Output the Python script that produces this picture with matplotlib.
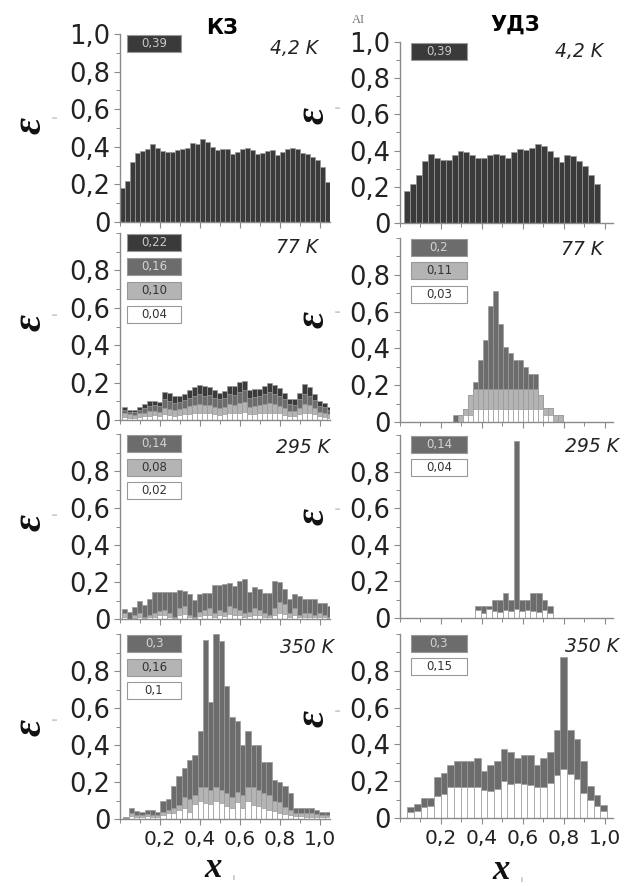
import numpy as np
import matplotlib.pyplot as plt
from matplotlib.patches import Rectangle
from matplotlib.ticker import MultipleLocator, FixedLocator, FuncFormatter

plt.rcParams['font.family'] = ['DejaVu Sans']

# ---- data ----
# left column "КЗ"
kz_42_dark = [0.18, 0.22, 0.32, 0.365, 0.38, 0.39, 0.415, 0.395, 0.38, 0.375, 0.375, 0.385,
              0.39, 0.395, 0.42, 0.415, 0.44, 0.425, 0.40, 0.385, 0.39, 0.39, 0.36, 0.37,
              0.39, 0.395, 0.385, 0.36, 0.365, 0.38, 0.383, 0.356, 0.372, 0.388, 0.395, 0.388,
              0.367, 0.36, 0.347, 0.33, 0.294, 0.214]

kz_77_dark = [0.072, 0.054, 0.054, 0.072, 0.086, 0.10, 0.103, 0.095, 0.148, 0.144, 0.126, 0.13,
              0.139, 0.158, 0.177, 0.186, 0.18, 0.177, 0.162, 0.144, 0.153, 0.18, 0.18, 0.204,
              0.207, 0.162, 0.166, 0.166, 0.184, 0.198, 0.186, 0.171, 0.144, 0.112, 0.112, 0.144,
              0.193, 0.175, 0.14, 0.10, 0.09, 0.07]
kz_77_mid = [0.055, 0.045, 0.045, 0.055, 0.065, 0.075, 0.08, 0.075, 0.11, 0.10, 0.09, 0.095,
             0.105, 0.12, 0.13, 0.14, 0.13, 0.135, 0.12, 0.11, 0.115, 0.14, 0.135, 0.15,
             0.16, 0.12, 0.125, 0.13, 0.14, 0.15, 0.14, 0.13, 0.11, 0.085, 0.08, 0.11,
             0.14, 0.13, 0.105, 0.075, 0.07, 0.055]
kz_77_light = [0.035, 0.03, 0.025, 0.035, 0.04, 0.05, 0.05, 0.045, 0.065, 0.06, 0.055, 0.06,
               0.065, 0.075, 0.08, 0.085, 0.08, 0.08, 0.07, 0.065, 0.07, 0.085, 0.08, 0.09,
               0.095, 0.07, 0.075, 0.08, 0.085, 0.09, 0.085, 0.075, 0.065, 0.05, 0.05, 0.065,
               0.085, 0.08, 0.065, 0.045, 0.04, 0.03]
kz_77_white = [0.015, 0.01, 0.01, 0.015, 0.02, 0.02, 0.025, 0.02, 0.03, 0.025, 0.02, 0.025,
               0.03, 0.03, 0.035, 0.04, 0.035, 0.035, 0.03, 0.025, 0.03, 0.04, 0.035, 0.04,
               0.045, 0.03, 0.03, 0.035, 0.04, 0.04, 0.04, 0.035, 0.025, 0.02, 0.02, 0.03,
               0.04, 0.035, 0.03, 0.02, 0.015, 0.01]

kz_295_mid = [0.054, 0.04, 0.067, 0.10, 0.076, 0.106, 0.144, 0.144, 0.144, 0.144, 0.144, 0.157,
              0.153, 0.135, 0.103, 0.133, 0.142, 0.142, 0.184, 0.184, 0.187, 0.193, 0.18, 0.207,
              0.214, 0.148, 0.171, 0.16, 0.139, 0.139, 0.205, 0.198, 0.16, 0.106, 0.135, 0.126,
              0.106, 0.106, 0.106, 0.085, 0.085, 0.07]
kz_295_light = [0.03, 0.0, 0.02, 0.03, 0.01, 0.02, 0.03, 0.045, 0.05, 0.03, 0.01, 0.06,
                0.07, 0.02, 0.01, 0.04, 0.05, 0.06, 0.03, 0.05, 0.04, 0.07, 0.06, 0.05,
                0.03, 0.04, 0.06, 0.05, 0.03, 0.02, 0.06, 0.09, 0.08, 0.03, 0.06, 0.02,
                0.03, 0.03, 0.02, 0.03, 0.02, 0.01]
kz_295_white = [0.01, 0.0, 0.005, 0.01, 0.005, 0.01, 0.01, 0.02, 0.02, 0.01, 0.005, 0.02,
                0.025, 0.01, 0.005, 0.015, 0.02, 0.02, 0.01, 0.02, 0.015, 0.025, 0.02, 0.02,
                0.01, 0.015, 0.02, 0.02, 0.01, 0.01, 0.02, 0.03, 0.025, 0.01, 0.02, 0.01,
                0.01, 0.01, 0.01, 0.01, 0.01, 0.005]

kz_350_mid = [0.013, 0.06, 0.045, 0.04, 0.05, 0.05, 0.04, 0.096, 0.11, 0.176, 0.23, 0.278,
              0.318, 0.345, 0.475, 0.966, 0.633, 1.0, 0.96, 0.72, 0.55, 0.53, 0.40, 0.475,
              0.40, 0.40, 0.31, 0.31, 0.21, 0.20, 0.18, 0.14, 0.06, 0.06, 0.06, 0.06,
              0.05, 0.04, 0.04]
kz_350_light = [0.005, 0.03, 0.02, 0.02, 0.025, 0.02, 0.02, 0.04, 0.05, 0.06, 0.076, 0.118,
                0.11, 0.13, 0.175, 0.175, 0.157, 0.175, 0.157, 0.14, 0.12, 0.148, 0.13, 0.175,
                0.175, 0.157, 0.14, 0.13, 0.10, 0.094, 0.067, 0.05, 0.03, 0.03, 0.03, 0.03,
                0.025, 0.02, 0.02]
kz_350_white = [0.0, 0.015, 0.01, 0.01, 0.015, 0.01, 0.01, 0.02, 0.03, 0.035, 0.05, 0.06,
                0.04, 0.08, 0.10, 0.085, 0.08, 0.10, 0.085, 0.07, 0.06, 0.09, 0.06, 0.095,
                0.075, 0.07, 0.06, 0.05, 0.045, 0.03, 0.025, 0.02, 0.015, 0.015, 0.01, 0.01,
                0.01, 0.01, 0.01]

# right column "УДЗ"
udz_42_dark = [0.175, 0.217, 0.265, 0.34, 0.38, 0.36, 0.35, 0.35, 0.375, 0.40, 0.39, 0.375,
               0.36, 0.36, 0.375, 0.38, 0.375, 0.36, 0.39, 0.41, 0.405, 0.415, 0.435, 0.425,
               0.40, 0.365, 0.335, 0.375, 0.37, 0.345, 0.315, 0.265, 0.215]

udz_77_mid = [0.036, 0.036, 0.07, 0.145, 0.22, 0.335, 0.445, 0.63, 0.71, 0.53, 0.41, 0.375,
              0.335, 0.335, 0.30, 0.26, 0.26, 0.145, 0.075, 0.075, 0.036, 0.036]
udz_77_light = [0.0, 0.036, 0.07, 0.145, 0.18, 0.18, 0.18, 0.18, 0.18, 0.18, 0.18, 0.18,
                0.18, 0.18, 0.18, 0.18, 0.18, 0.145, 0.075, 0.075, 0.036, 0.036]
udz_77_white = [0.0, 0.0, 0.036, 0.036, 0.07, 0.07, 0.07, 0.07, 0.07, 0.07, 0.07, 0.07,
                0.07, 0.07, 0.07, 0.07, 0.07, 0.07, 0.036, 0.036, 0.0, 0.0]

udz_295_mid = [0.064, 0.064, 0.064, 0.096, 0.096, 0.134, 0.096, 0.965, 0.096, 0.096, 0.134,
               0.134, 0.096, 0.064]
udz_295_white = [0.045, 0.03, 0.05, 0.04, 0.035, 0.045, 0.04, 0.05, 0.04, 0.045, 0.04,
                 0.035, 0.045, 0.03]

udz_350_mid = [0.058, 0.076, 0.11, 0.11, 0.224, 0.242, 0.29, 0.31, 0.31, 0.31, 0.327, 0.255,
               0.29, 0.31, 0.376, 0.36, 0.324, 0.34, 0.34, 0.29, 0.324, 0.36, 0.476, 0.873,
               0.476, 0.427, 0.31, 0.173, 0.124, 0.073]
udz_350_white = [0.03, 0.04, 0.06, 0.065, 0.118, 0.133, 0.167, 0.167, 0.167, 0.167, 0.167, 0.15,
                 0.145, 0.158, 0.2, 0.185, 0.19, 0.185, 0.178, 0.167, 0.167, 0.19, 0.236, 0.267,
                 0.24, 0.21, 0.136, 0.096, 0.064, 0.036]

temps = ['4,2 K', '77 K', '295 K', '350 K']
kz_legend = [['0,39'], ['0,22', '0,16', '0,10', '0,04'], ['0,14', '0,08', '0,02'], ['0,3', '0,16', '0,1']]
udz_legend = [['0,39'], ['0,2', '0,11', '0,03'], ['0,14', '0,04'], ['0,3', '0,15']]
x_ticks = [0.2, 0.4, 0.6, 0.8, 1.0]

# ---- styles ----
DARK, MID, LIGHT, WHITE = '#3a3a3a', '#6c6c6c', '#b4b4b4', '#ffffff'
TXT = {DARK: '#c8c8c8', MID: '#d4d4d4', LIGHT: '#333333', WHITE: '#333333'}

W, H = 638, 886
fig = plt.figure(figsize=(W / 100, H / 100), dpi=100)


def rect(l, t, r, b):
    return [l / W, 1 - b / H, (r - l) / W, (b - t) / H]


def fmt(v, pos):
    return '0' if abs(v) < 1e-9 else f'{v:.1f}'.replace('.', ',')


# per panel: layers, colours, bin start, bin width
kz = [
    ([kz_42_dark], [DARK], 0.0, 0.025),
    ([kz_77_dark, kz_77_mid, kz_77_light, kz_77_white], [DARK, MID, LIGHT, WHITE], 0.008, 0.025),
    ([kz_295_mid, kz_295_light, kz_295_white], [MID, LIGHT, WHITE], 0.008, 0.025),
    ([kz_350_mid, kz_350_light, kz_350_white], [MID, LIGHT, WHITE], 0.0167, 0.0265),
]
udz = [
    ([udz_42_dark], [DARK], 0.02, 0.029),
    ([udz_77_mid, udz_77_light, udz_77_white], [MID, LIGHT, WHITE], 0.259, 0.0244),
    ([udz_295_mid, udz_295_white], [MID, WHITE], 0.367, 0.027),
    ([udz_350_mid, udz_350_white], [MID, WHITE], 0.036, 0.0325),
]

cols = [
    dict(panels=kz, legend=kz_legend, l=120, r=330, xmax=1.05, box_x=0.035,
         rows=[(34, 222), (233, 420), (434, 619), (634, 819)],
         tpos=[(0.99, 0.925), (0.99, 0.925), (1.05, 0.925), (1.07, 0.925)]),
    dict(panels=udz, legend=udz_legend, l=400, r=613, xmax=1.04, box_x=0.055,
         rows=[(42, 223), (238, 422), (435, 618), (634, 818)],
         tpos=[(0.99, 0.945), (0.99, 0.935), (1.07, 0.935), (1.07, 0.93)]),
]

for col in cols:
    for i, ((layers, colors, x0, bw), (t, b)) in enumerate(zip(col['panels'], col['rows'])):
        ax = fig.add_axes(rect(col['l'], t, col['r'], b))
        for vals, c in zip(layers, colors):
            xs = x0 + bw * np.arange(len(vals))
            ax.bar(xs, vals, width=bw, align='edge', color=c,
                   edgecolor='#9a9a9a', linewidth=0.5, zorder=2)
        ax.set_xlim(0, col['xmax'])
        ax.set_ylim(0, 1.0)
        for s in ['top', 'right']:
            ax.spines[s].set_visible(False)
        for s in ['left', 'bottom']:
            ax.spines[s].set_color('#8a8a8a')
            ax.spines[s].set_linewidth(1.0)
        major = [0, 0.2, 0.4, 0.6, 0.8, 1.0] if i == 0 else [0, 0.2, 0.4, 0.6, 0.8]
        ax.yaxis.set_major_locator(FixedLocator(major))
        ax.yaxis.set_minor_locator(MultipleLocator(0.1))
        ax.yaxis.set_major_formatter(FuncFormatter(fmt))
        ax.xaxis.set_major_locator(FixedLocator(x_ticks))
        ax.xaxis.set_minor_locator(MultipleLocator(0.1))
        ax.xaxis.set_major_formatter(FuncFormatter(fmt))
        ax.tick_params(axis='y', which='major', labelsize=18.5, length=4, width=0.8,
                       color='#8a8a8a', labelcolor='#222222', pad=3)
        ax.tick_params(axis='x', which='major', labelsize=14.5, length=4, width=0.8,
                       color='#8a8a8a', labelcolor='#222222', pad=4,
                       labelbottom=(i == 3))
        ax.tick_params(which='minor', length=3, width=0.7, color='#8a8a8a')

        # legend boxes
        for k, (lab, c) in enumerate(zip(col['legend'][i], colors)):
            ytop = 0.995 - k * 0.128
            ax.add_patch(Rectangle((col['box_x'], ytop - 0.092), 0.27, 0.092,
                                   facecolor=c, edgecolor='#999999', linewidth=0.8,
                                   zorder=5, clip_on=False))
            ax.text(col['box_x'] + 0.135, ytop - 0.046, lab, ha='center', va='center',
                    fontsize=8.5, color=TXT[c], zorder=6)

        tx, ty = col['tpos'][i]
        ax.text(tx, ty, temps[i], ha='right', va='center', fontsize=13.5,
                style='italic', color='#222222')

# axis labels (epsilon and x) drawn as figure text
serif = dict(family='Liberation Serif', weight='bold', style='italic', color='#111111')
for x, ys in [(31, [125, 322, 522, 727]), (314, [115, 319, 516, 718])]:
    for y in ys:
        fig.text(x / W, 1 - y / H, 'ε', rotation=90, fontsize=30, ha='center', va='center', **serif)
        fig.text((x + 24) / W, 1 - (y - 8) / H, 'i', rotation=90, fontsize=5, ha='center',
                 va='center', color='#777777')
for x, y in [(213, 877), (501, 879)]:
    fig.text(x / W, 1 - y / H, 'x', fontsize=25, ha='center', va='baseline', **serif)
    fig.text((x + 20) / W, 1 - (y + 1) / H, 'i', fontsize=5, ha='center', va='center',
             color='#777777')

fig.text(222 / W, 1 - 28 / H, 'КЗ', fontsize=15, weight='bold', ha='center', va='center')
fig.text(515 / W, 1 - 25 / H, 'УДЗ', fontsize=15, weight='bold', ha='center', va='center')
fig.text(358 / W, 1 - 20 / H, 'AI', fontsize=9, family='Liberation Serif', color='#777777',
         ha='center', va='center')

fig.savefig('out.png', dpi=100)
